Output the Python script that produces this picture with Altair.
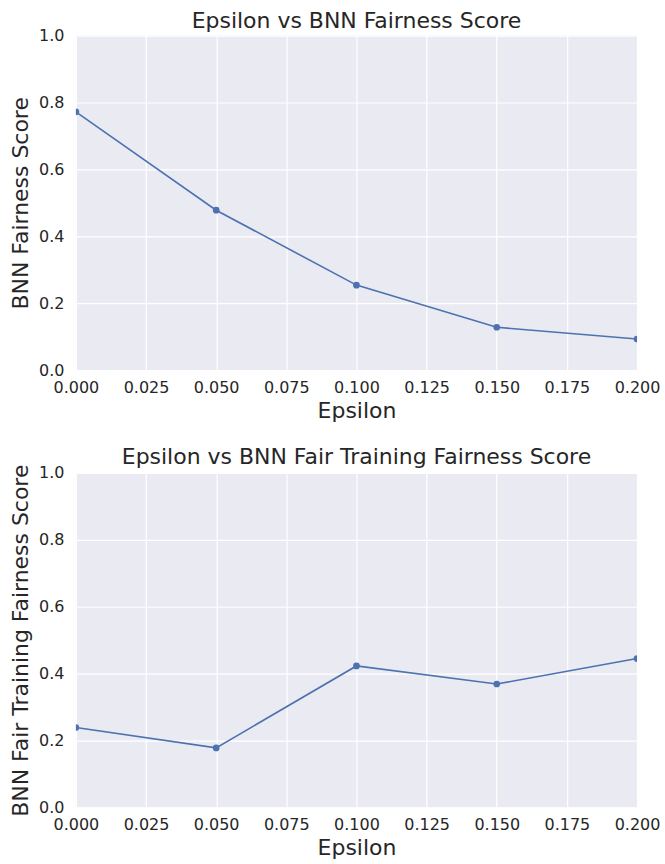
import altair as alt
import pandas as pd

epsilon = [0.0, 0.05, 0.10, 0.15, 0.20]
bnn_fairness = [0.772, 0.478, 0.254, 0.128, 0.093]
bnn_fair_training = [0.239, 0.178, 0.423, 0.369, 0.445]

x_ticks = [0.0, 0.025, 0.05, 0.075, 0.1, 0.125, 0.15, 0.175, 0.2]
y_ticks = [0.0, 0.2, 0.4, 0.6, 0.8, 1.0]

LINE_COLOR = "#4C72B0"
TEXT_COLOR = "#262626"


def panel(values, title, ytitle):
    df = pd.DataFrame({"eps": epsilon, "score": values})
    base = alt.Chart(df).encode(
        x=alt.X(
            "eps:Q",
            scale=alt.Scale(domain=[0, 0.2], nice=False, zero=False),
            axis=alt.Axis(title="Epsilon", format=".3f", values=x_ticks),
        ),
        y=alt.Y(
            "score:Q",
            scale=alt.Scale(domain=[0, 1], nice=False),
            axis=alt.Axis(title=ytitle, format=".1f", values=y_ticks),
        ),
    )
    line = base.mark_line(color=LINE_COLOR, strokeWidth=1.6, clip=True)
    pts = base.mark_circle(color=LINE_COLOR, size=45, opacity=1, clip=True)
    return alt.layer(line, pts).properties(
        width=562,
        height=335,
        title=alt.TitleParams(title, fontSize=22, font="DejaVu Sans",
                              fontWeight="normal", color=TEXT_COLOR, offset=-5),
    )


top = panel(bnn_fairness, "Epsilon vs BNN Fairness Score", "BNN Fairness Score")
bottom = panel(bnn_fair_training, "Epsilon vs BNN Fair Training Fairness Score",
               "BNN Fair Training Fairness Score")

chart = (
    alt.vconcat(top, bottom, spacing=25)
    .properties(padding={"left": 9, "top": 9, "right": 5, "bottom": 0})
    .configure_view(fill="#EAEAF2", stroke=None)
    .configure_axis(
        grid=True,
        gridColor="white",
        gridWidth=1.2,
        domain=False,
        ticks=False,
        labelFlush=False,
        labelFont="DejaVu Sans",
        labelFontSize=16,
        labelColor=TEXT_COLOR,
        titleFont="DejaVu Sans",
        titleFontSize=22,
        titleFontWeight="normal",
        titleColor=TEXT_COLOR,
    )
    .configure_axisX(labelPadding=9, titlePadding=5)
    .configure_axisY(labelPadding=12, titlePadding=6)
)

chart.save("out.html", embed_options={"renderer": "svg", "actions": False})
